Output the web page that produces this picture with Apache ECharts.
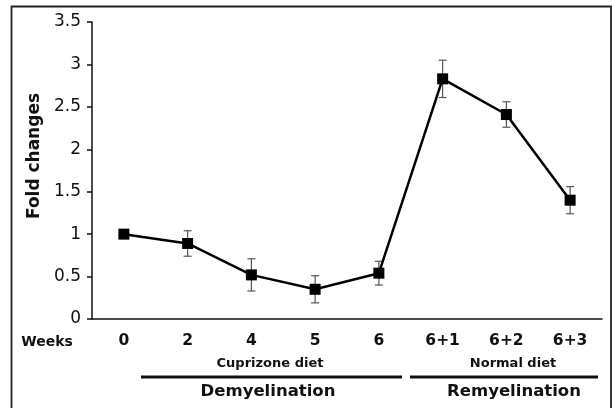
<!DOCTYPE html>
<html>
<head>
<meta charset="utf-8">
<script src="https://cdn.jsdelivr.net/npm/echarts@6/dist/echarts.min.js"></script>
<style>html,body{margin:0;padding:0;background:#fff}#c{width:613px;height:408px}</style>
</head>
<body>
<div id="c"></div>
<script>
const categories = ['0', '2', '4', '5', '6', '6+1', '6+2', '6+3'];
const foldValues = [1.0, 0.89, 0.52, 0.35, 0.54, 2.83, 2.41, 1.40];
const errValues = [0.0, 0.15, 0.19, 0.16, 0.14, 0.22, 0.15, 0.16];
const yTicks = { min: 0, max: 3.5, interval: 0.5 };

const FONT = 'DejaVu Sans';
const chart = echarts.init(document.getElementById('c'));

const errData = categories.map((c, i) => [i, foldValues[i] - errValues[i], foldValues[i] + errValues[i]]);

chart.setOption({
  animation: false,
  backgroundColor: '#fff',
  grid: { left: 92, right: 11, top: 22, bottom: 89 },
  xAxis: {
    type: 'category',
    data: categories,
    boundaryGap: true,
    axisLine: { lineStyle: { color: '#111', width: 1.5 } },
    axisTick: { length: 5, lineStyle: { color: '#111', width: 1.5 } },
    axisLabel: { margin: 14, color: '#111', fontFamily: FONT, fontWeight: 'bold', fontSize: 15.5 }
  },
  yAxis: {
    type: 'value',
    min: yTicks.min, max: yTicks.max, interval: yTicks.interval,
    splitLine: { show: false },
    axisLine: { show: true, lineStyle: { color: '#111', width: 1.5 } },
    axisTick: { show: true, length: 5, lineStyle: { color: '#111', width: 1.5 } },
    axisLabel: { margin: 11, color: '#111', fontFamily: FONT, fontSize: 17 }
  },
  series: [
    {
      type: 'custom',
      data: errData,
      z: 1,
      renderItem: function (params, api) {
        const x = api.value(0);
        const lo = api.coord([x, api.value(1)]);
        const hi = api.coord([x, api.value(2)]);
        const w = 4;
        const st = { stroke: '#555', lineWidth: 1.2 };
        return {
          type: 'group',
          children: [
            { type: 'line', shape: { x1: lo[0], y1: lo[1], x2: hi[0], y2: hi[1] }, style: st },
            { type: 'line', shape: { x1: lo[0] - w, y1: lo[1], x2: lo[0] + w, y2: lo[1] }, style: st },
            { type: 'line', shape: { x1: hi[0] - w, y1: hi[1], x2: hi[0] + w, y2: hi[1] }, style: st }
          ]
        };
      }
    },
    {
      type: 'line',
      data: foldValues,
      z: 3,
      symbol: 'rect',
      symbolSize: 11,
      lineStyle: { color: '#000', width: 2.5 },
      itemStyle: { color: '#000' }
    }
  ],
  graphic: [
    { type: 'rect', shape: { x: 11.5, y: 6.5, width: 599.5, height: 420 }, style: { fill: 'none', stroke: '#222', lineWidth: 1.8 }, silent: true },
    { type: 'text', x: 35, y: 156, rotation: Math.PI / 2, style: { text: 'Fold changes', font: 'bold 17px "DejaVu Sans"', fill: '#111', textAlign: 'center', textVerticalAlign: 'middle' } },
    { type: 'text', x: 47, y: 342, style: { text: 'Weeks', font: 'bold 14px "DejaVu Sans"', fill: '#111', textAlign: 'center', textVerticalAlign: 'middle' } },
    { type: 'text', x: 270, y: 364, style: { text: 'Cuprizone diet', font: 'bold 13px "DejaVu Sans"', fill: '#111', textAlign: 'center', textVerticalAlign: 'middle' } },
    { type: 'text', x: 513, y: 364, style: { text: 'Normal diet', font: 'bold 13px "DejaVu Sans"', fill: '#111', textAlign: 'center', textVerticalAlign: 'middle' } },
    { type: 'line', shape: { x1: 141, y1: 377, x2: 402, y2: 377 }, style: { stroke: '#111', lineWidth: 3 } },
    { type: 'line', shape: { x1: 410, y1: 377, x2: 598, y2: 377 }, style: { stroke: '#111', lineWidth: 3 } },
    { type: 'text', x: 268, y: 392, style: { text: 'Demyelination', font: 'bold 16.5px "DejaVu Sans"', fill: '#111', textAlign: 'center', textVerticalAlign: 'middle' } },
    { type: 'text', x: 514, y: 392, style: { text: 'Remyelination', font: 'bold 16.5px "DejaVu Sans"', fill: '#111', textAlign: 'center', textVerticalAlign: 'middle' } }
  ]
});
</script>
</body>
</html>
